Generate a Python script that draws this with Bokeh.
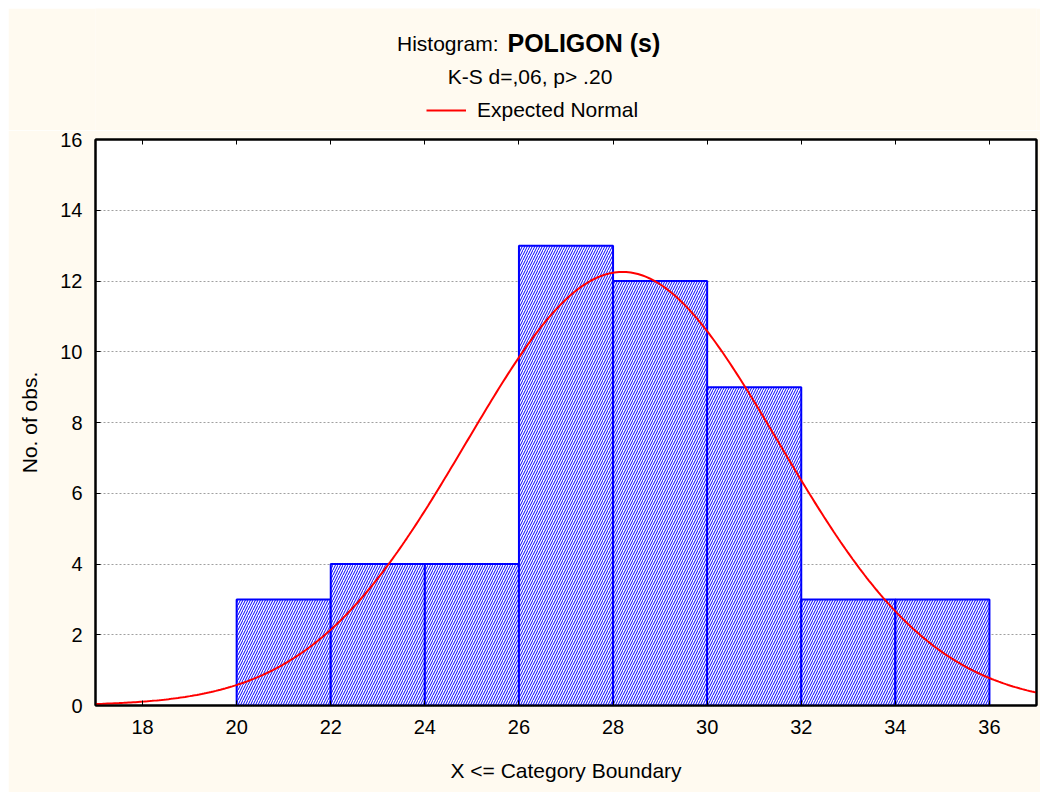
import numpy as np
from bokeh.plotting import figure
from bokeh.layouts import column, row
from bokeh.models import (LinearAxis, FixedTicker, Legend, LegendItem,
                          Range1d, ColumnDataSource, Spacer)
from bokeh.core.properties import value
from bokeh.embed import file_html
from bokeh.resources import INLINE

# ---- data ----
bin_left = [20, 22, 24, 26, 28, 30, 32, 34]
bin_right = [22, 24, 26, 28, 30, 32, 34, 36]
counts = [3, 4, 4, 13, 12, 9, 3, 3]
x_ticks = [18, 20, 22, 24, 26, 28, 30, 32, 34, 36]
y_ticks = [0, 2, 4, 6, 8, 10, 12, 14, 16]
fit_mean = 28.2
fit_sd = 3.32

FONT = "Liberation Sans"
CREAM = "#fffaf0"

n_obs = sum(counts)
bin_width = bin_right[0] - bin_left[0]
xs = np.linspace(17, 37, 400)
ys = n_obs * bin_width / (fit_sd * np.sqrt(2 * np.pi)) * np.exp(-0.5 * ((xs - fit_mean) / fit_sd) ** 2)

# ---------------- header (titles + legend) ----------------
# header frame spans the same horizontal pixels as the main frame (page x 95..1036)
h = figure(width=1032, height=122, x_range=Range1d(95, 1036), y_range=Range1d(130, 8),
           output_backend="svg", toolbar_location=None,
           min_border_left=87, min_border_right=4, min_border_top=0, min_border_bottom=0,
           background_fill_color=CREAM, border_fill_color=CREAM, outline_line_color=None,
           x_axis_location=None, y_axis_location=None)
h.grid.visible = False

h.text(x=[498], y=[43], text=["Histogram:"], text_align="right", text_baseline="middle",
       text_font=value(FONT), text_font_size=value("21px"), text_color="black")
h.text(x=[507], y=[42], text=["POLIGON (s)"], text_align="left", text_baseline="middle",
       text_font=value(FONT), text_font_size=value("25px"), text_font_style="bold", text_color="black")
h.text(x=[529.5], y=[76], text=["K-S d=,06, p> .20"], text_align="center", text_baseline="middle",
       text_font=value(FONT), text_font_size=value("21px"), text_color="black")

leg_src = ColumnDataSource(dict(x=[np.nan, np.nan], y=[np.nan, np.nan]))
leg_line = h.line("x", "y", source=leg_src, line_color="#ff0000", line_width=2)
hl = Legend(items=[LegendItem(label="Expected Normal", renderers=[leg_line])],
            location=(331, 8), padding=0, margin=0, spacing=0,
            glyph_width=40, glyph_height=20, label_standoff=11, label_height=20,
            label_text_font=FONT, label_text_font_size="21px", label_text_color="black",
            border_line_color=None, background_fill_alpha=0)
h.add_layout(hl, "center")

# ---------------- main histogram ----------------
p = figure(width=1032, height=662, x_range=Range1d(17, 37), y_range=Range1d(0, 16),
           output_backend="svg", toolbar_location=None,
           min_border_left=87, min_border_right=4, min_border_top=9, min_border_bottom=87,
           background_fill_color="white", border_fill_color=CREAM,
           outline_line_color="black", outline_line_width=2,
           x_axis_location=None, y_axis_location=None)

p.xgrid.visible = False
p.ygrid.ticker = FixedTicker(ticks=y_ticks)
p.ygrid.grid_line_color = "#a0a0a0"
p.ygrid.grid_line_dash = "2 2"
p.ygrid.grid_line_width = 1

def style_axis(ax, labels=True):
    ax.axis_line_color = "black"
    ax.axis_line_width = 2
    ax.major_tick_in = 5
    ax.major_tick_out = 0
    ax.major_tick_line_color = "black"
    ax.major_tick_line_width = 1
    ax.minor_tick_line_color = None
    ax.major_label_text_font = FONT
    ax.axis_label_text_font = FONT
    ax.axis_label_text_font_style = "normal"
    ax.axis_label_text_color = "black"
    ax.axis_label_text_font_size = "21px"
    if labels:
        ax.major_label_text_font_size = "20px"
        ax.major_label_text_color = "black"
    else:
        ax.major_label_text_font_size = "1px"
        ax.major_label_text_color = None
        ax.major_label_standoff = 0

xb = LinearAxis(ticker=FixedTicker(ticks=x_ticks), axis_label="X <= Category Boundary")
style_axis(xb)
xb.major_label_standoff = 14
xb.axis_label_standoff = 22
p.add_layout(xb, "below")

yl = LinearAxis(ticker=FixedTicker(ticks=y_ticks), axis_label="No. of obs.")
style_axis(yl)
yl.major_label_standoff = 13
yl.axis_label_standoff = 16
p.add_layout(yl, "left")

xt = LinearAxis(ticker=FixedTicker(ticks=x_ticks))
style_axis(xt, labels=False)
p.add_layout(xt, "above")

yr = LinearAxis(ticker=FixedTicker(ticks=y_ticks))
style_axis(yr, labels=False)
p.add_layout(yr, "right")

src = ColumnDataSource(dict(left=bin_left, right=bin_right, top=counts, bottom=[0] * len(counts)))
p.quad(left="left", right="right", top="top", bottom="bottom", source=src,
       fill_color="white", line_color="#0000ff", line_width=2,
       hatch_pattern="/", hatch_color="#0000ff", hatch_scale=5, hatch_weight=1)

p.line(xs, ys, line_color="#ff0000", line_width=2)

layout = column(Spacer(height=8),
                row(Spacer(width=8), column(h, p, spacing=0), spacing=0),
                spacing=0)

open("out.html", "w").write(file_html(layout, INLINE))
